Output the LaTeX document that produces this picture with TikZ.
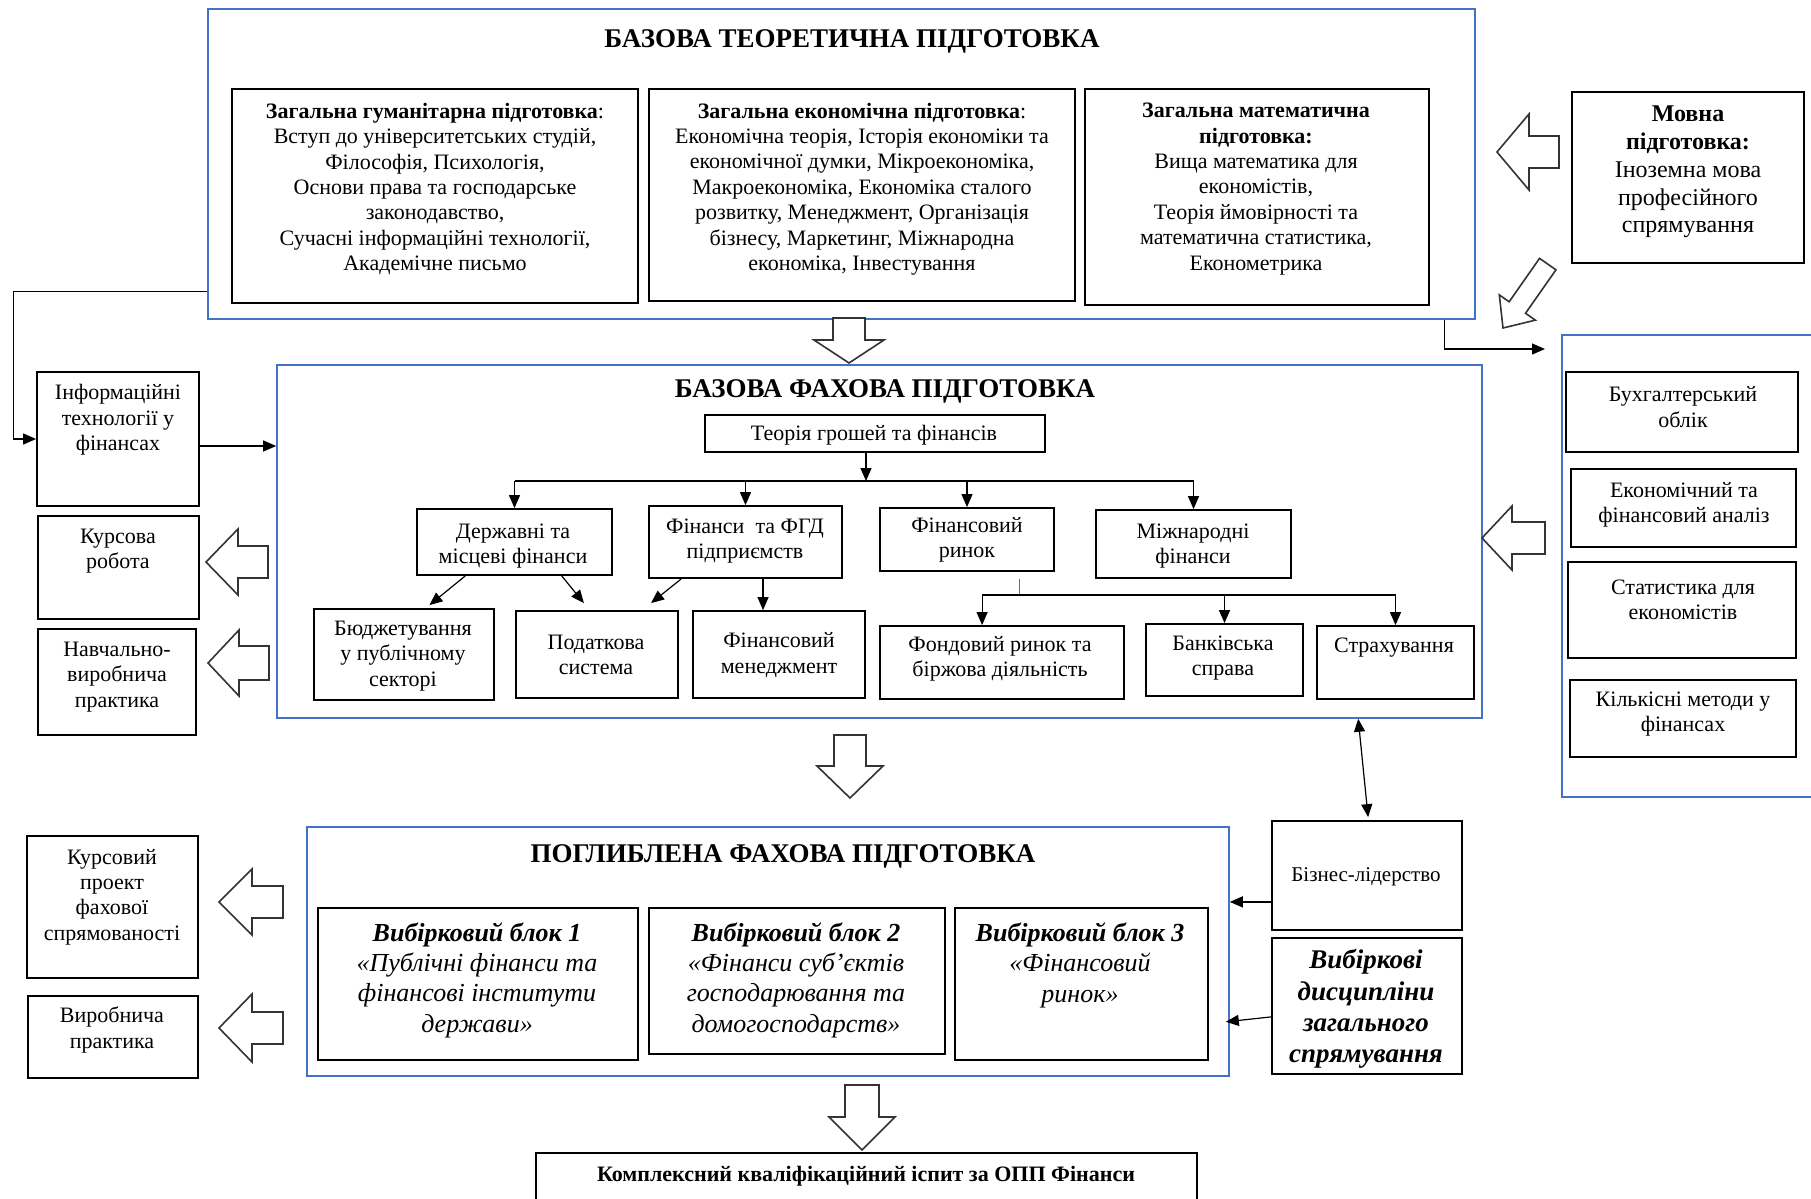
\documentclass[tikz,border=0pt]{standalone}
\usepackage{fontspec}
\setmainfont{Liberation Serif}
\usetikzlibrary{arrows.meta,calc,fit}
\definecolor{bord}{HTML}{4472C4}
\newcommand{\hollowarr}[7]{\begin{scope}[shift={(#1,#2)},rotate=#3]\draw[barrow] (0,0) -- (-#7,#6) -- (-#7,#5) -- (-#4,#5) -- (-#4,-#5) -- (-#7,-#5) -- (-#7,-#6) -- cycle;\end{scope}}
\tikzset{
  bbox/.style={draw=black, line width=0.9pt, inner sep=0pt},
  blbox/.style={draw=bord, line width=0.8pt, inner sep=0pt},
  txt/.style={align=center, inner sep=0pt, font=\fontsize{11}{12.7}\selectfont},
  txtbig/.style={align=center, inner sep=0pt, font=\fontsize{12}{13.9}\selectfont},
  txtblk/.style={align=center, inner sep=0pt, font=\fontsize{13}{15.2}\selectfont\itshape},
  ttl/.style={inner sep=0pt, font=\fontsize{13.5}{16}\selectfont\bfseries},
  barrow/.style={draw=black!80, line width=0.8pt, fill=white, line join=miter},
  line/.style={line width=0.6pt},
  arr/.style={line width=0.6pt, -{Triangle[length=6.5pt,width=5.5pt]}},
  arr2/.style={line width=0.6pt, {Triangle[length=6.5pt,width=5.5pt]}-{Triangle[length=6.5pt,width=5.5pt]}}
}
\begin{document}
\begin{tikzpicture}[x=0.5pt,y=-0.5pt]
\clip (0,0) rectangle (1811,1199);
\fill[white] (0,0) rectangle (1811,1199);

% ---------- top block ----------
\node[blbox, fit={(208,9) (1475,319)}] (topbox) {};
\node[ttl] (toptitle) at (852,41) {БАЗОВА ТЕОРЕТИЧНА ПІДГОТОВКА};
\node[bbox, fit={(232,89) (638,303)}] (g1) {};
\node[bbox, fit={(649,89) (1075,301)}] (g2) {};
\node[bbox, fit={(1085,89) (1429,305)}] (g3) {};
\node[txt] (g1t) at (435,189) {\textbf{Загальна гуманітарна підготовка}:\\Вступ до університетських студій,\\Філософія, Психологія,\\Основи права та господарське\\законодавство,\\Сучасні інформаційні технології,\\Академічне письмо};
\node[txt] (g2t) at (862,189) {\textbf{Загальна економічна підготовка}:\\Економічна теорія, Історія економіки та\\економічної думки, Мікроекономіка,\\Макроекономіка, Економіка сталого\\розвитку, Менеджмент, Організація\\бізнесу, Маркетинг, Міжнародна\\економіка, Інвестування};
\node[txt] (g3t) at (1256,189) {\textbf{Загальна математична}\\\textbf{підготовка:}\\Вища математика для\\економістів,\\Теорія ймовірності та\\математична статистика,\\Економетрика};

\node[bbox, fit={(1572,92) (1804,263)}] (movna) {};
\node[txtbig] (movnat) at (1688,172) {\textbf{Мовна}\\\textbf{підготовка:}\\Іноземна мова\\професійного\\спрямування};

% ---------- middle block ----------
\node[blbox, fit={(277,365) (1482,718)}] (midbox) {};
\node[ttl] (midtitle) at (885,391) {БАЗОВА ФАХОВА ПІДГОТОВКА};
\node[bbox, fit={(705,415) (1045,452)}] (theory) {};
\node[txt] (theoryt) at (874,435) {Теорія грошей та фінансів};
\node[bbox, fit={(417,509) (612,575)}] (derzh) {};
\node[txt] (derzht) at (513,546) {Державні та\\місцеві фінанси};
\node[bbox, fit={(649,506) (842,578)}] (fgd) {};
\node[txt] (fgdt) at (745,541) {Фінанси~ та ФГД\\підприємств};
\node[bbox, fit={(880,508) (1054,571)}] (finr) {};
\node[txt] (finrt) at (967,540) {Фінансовий\\ринок};
\node[bbox, fit={(1096,510) (1291,578)}] (mizh) {};
\node[txt] (mizht) at (1193,546) {Міжнародні\\фінанси};

\node[bbox, fit={(314,609) (494,700)}] (budget) {};
\node[txt] (budgett) at (403,656) {Бюджетування\\у публічному\\секторі};
\node[bbox, fit={(516,611) (678,698)}] (podat) {};
\node[txt] (podatt) at (596,655) {Податкова\\система};
\node[bbox, fit={(693,611) (865,698)}] (finman) {};
\node[txt] (finmant) at (779,655) {Фінансовий\\менеджмент};
\node[bbox, fit={(880,626) (1124,699)}] (fond) {};
\node[txt] (fondt) at (1000,659) {Фондовий ринок та\\біржова діяльність};
\node[bbox, fit={(1146,624) (1303,696)}] (bank) {};
\node[txt] (bankt) at (1223,658) {Банківська\\справа};
\node[bbox, fit={(1317,626) (1474,699)}] (strakh) {};
\node[txt] (strakht) at (1394,648) {Страхування};

% ---------- right column ----------
\node[blbox, fit={(1562,335) (1840,797)}] (rightbox) {};
\node[bbox, fit={(1566,372) (1798,452)}] (buh) {};
\node[txt] (buht) at (1683,407) {Бухгалтерський\\облік};
\node[bbox, fit={(1571,469) (1796,547)}] (econ) {};
\node[txt] (econt) at (1684,505) {Економічний та\\фінансовий аналіз};
\node[bbox, fit={(1568,562) (1796,658)}] (stat) {};
\node[txt] (statt) at (1683,600) {Статистика для\\економістів};
\node[bbox, fit={(1570,680) (1796,757)}] (kilk) {};
\node[txt] (kilkt) at (1683,714) {Кількісні методи у\\фінансах};

% ---------- left column ----------
\node[bbox, fit={(37,372) (199,506)}] (info) {};
\node[txt] (infot) at (118,420) {Інформаційні\\технології у\\фінансах};
\node[bbox, fit={(38,516) (199,619)}] (kurs) {};
\node[txt] (kurst) at (118,551) {Курсова\\робота};
\node[bbox, fit={(38,629) (196,735)}] (navch) {};
\node[txt] (navcht) at (117,677) {Навчально-\\виробнича\\практика};
\node[bbox, fit={(27,836) (198,978)}] (kproj) {};
\node[txt] (kprojt) at (112,897) {Курсовий\\проект\\фахової\\спрямованості};
\node[bbox, fit={(28,996) (198,1078)}] (vyrob) {};
\node[txt] (vyrobt) at (112,1030) {Виробнича\\практика};

% ---------- bottom block ----------
\node[blbox, fit={(307,827) (1229,1076)}] (pogl) {};
\node[ttl] (pogltitle) at (783,856) {ПОГЛИБЛЕНА ФАХОВА ПІДГОТОВКА};
\node[bbox, fit={(318,908) (638,1060)}] (blk1) {};
\node[txtblk] (blk1t) at (477,980) {\textbf{Вибірковий блок 1}\\«Публічні фінанси та\\фінансові інститути\\держави»};
\node[bbox, fit={(649,908) (945,1054)}] (blk2) {};
\node[txtblk] (blk2t) at (796,980) {\textbf{Вибірковий блок 2}\\«Фінанси суб'єктів\\господарювання та\\домогосподарств»};
\node[bbox, fit={(955,908) (1208,1060)}] (blk3) {};
\node[txtblk] (blk3t) at (1080,965) {\textbf{Вибірковий блок 3}\\«Фінансовий\\ринок»};

\node[bbox, fit={(1272,821) (1462,930)}] (biz) {};
\node[txt, font=\fontsize{10.5}{12.7}\selectfont] (bizt) at (1366,877) {Бізнес-лідерство};
\node[bbox, fit={(1272,938) (1462,1074)}] (vyb) {};
\node[txtblk, font=\fontsize{13.5}{15.6}\selectfont\bfseries\itshape] (vybt) at (1366,1009) {Вибіркові\\дисципліни\\загального\\спрямування};

\node[bbox, fit={(536,1153) (1197,1215)}] (exam) {};
\node[txt, font=\fontsize{11}{13}\selectfont\bfseries] (examt) at (866,1176) {Комплексний кваліфікаційний іспит за ОПП Фінанси};

% ---------- connectors ----------
\draw[arr] ($(topbox.south west)+(0,-28)$) -- ++(-194,0) |- (info.west);
\coordinate (ia) at ($(info.east)+(0,7)$);
\draw[arr] (ia) -- (ia -| midbox.west);
\coordinate (rbend) at (1545,349);
\draw[arr] ($(topbox.south east)+(-31,0)$) |- (rbend);

\coordinate (bus) at (0,481);
\coordinate (ta) at ($(theory.south)+(-9,0)$);
\draw[arr] (ta) -- (ta |- bus);
\draw[line] (derzh.north |- bus) -- (mizh.north |- bus);
\foreach \n in {derzh,fgd,finr,mizh} \draw[arr] (\n.north |- bus) -- (\n.north);

\draw[arr] ($(derzh.south west)!0.25!(derzh.south east)$) -- ($(budget.north west)!0.64!(budget.north east)+(0,-3)$);
\draw[arr] ($(derzh.south west)!0.74!(derzh.south east)$) -- ($(podat.north west)!0.42!(podat.north east)+(0,-7)$);
\draw[arr] ($(fgd.south west)!0.17!(fgd.south east)$) -- ($(podat.north west)!0.83!(podat.north east)+(0,-7)$);
\coordinate (fm1) at ($(fgd.south west)!0.59!(fgd.south east)$);
\draw[arr] (fm1) -- (fm1 |- finman.north);

\draw[bord, line width=0.6pt] ($(finr.south west)!0.8!(finr.south east)+(0,7)$) -- ++(0,17);
\coordinate (bus2) at (0,595);
\coordinate (fa) at ($(fond.north west)+(103,0)$);
\draw[line] (fa |- bus2) -- (strakh.north |- bus2);
\draw[arr] (fa |- bus2) -- (fa);
\draw[arr] (bank.north |- bus2) -- (bank.north);
\draw[arr] (strakh.north |- bus2) -- (strakh.north);

\draw[arr2] ($(midbox.south west)+(1082,0)$) -- ($(biz.north west)+(97,-3)$);
\coordinate (b1) at ($(biz.south west)+(0,-29)$);
\draw[arr] (b1) -- (b1 -| pogl.east);
\draw[arr] ($(vyb.south west)+(0,-58)$) -- ($(pogl.south east)+(-4,-55)$);

% ---------- hollow block arrows ----------
\hollowarr{1497}{152}{180}{62}{16}{38}{32}
\hollowarr{1503}{328}{-125}{78}{10}{22}{25}
\hollowarr{849}{363}{-90}{45}{16}{35}{23}
\hollowarr{1482}{538}{180}{63}{16}{32}{30}
\hollowarr{206}{562}{180}{62}{16}{33}{32}
\hollowarr{208}{663}{180}{61}{17}{33}{31}
\hollowarr{850}{798}{-90}{63}{16}{33}{32}
\hollowarr{219}{902}{180}{64}{16}{33}{33}
\hollowarr{219}{1028}{180}{64}{16}{34}{33}
\hollowarr{862}{1150}{-90}{65}{17}{33}{33}
\end{tikzpicture}
\end{document}
